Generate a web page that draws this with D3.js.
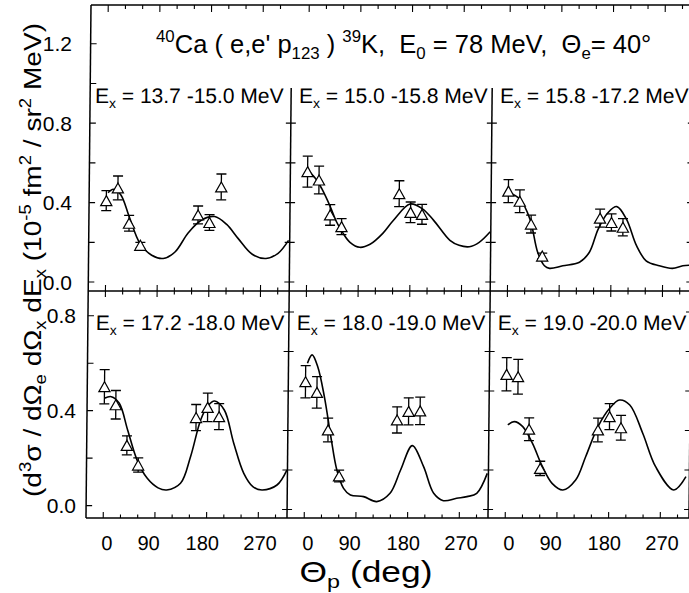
<!DOCTYPE html>
<html>
<head>
<meta charset="utf-8">
<script src="https://cdn.jsdelivr.net/npm/d3@7"></script>
<style>
  body { margin: 0; background: #fff; }
  svg { display: block; }
  text { font-family: "Liberation Sans", Arial, Helvetica, sans-serif; fill: #000; white-space: pre; }
</style>
</head>
<body>
<svg id="chart" width="689" height="593"></svg>
<script>
// ---- data ---------------------------------------------------------------
// proton emission angles of the measured points (deg)
const angles = [0, 20, 40, 60, 160, 180, 200];

// excitation-energy bins, one per panel
const bins = ["13.7 -15.0", "15.0 -15.8", "15.8 -17.2", "17.2 -18.0", "18.0 -19.0", "19.0 -20.0"];

// measured cross sections (10^-5 fm^2 / sr^2 MeV) and their errors
const meas1 = [0.410, 0.474, 0.296, 0.185, 0.338, 0.300, 0.479];
const err1  = [0.050, 0.060, 0.040, 0.015, 0.045, 0.040, 0.065];
const meas2 = [0.556, 0.514, 0.338, 0.279, 0.445, 0.351, 0.341];
const err2  = [0.078, 0.070, 0.052, 0.040, 0.065, 0.052, 0.050];
const meas3 = [0.458, 0.407, 0.292, 0.131, 0.322, 0.300, 0.276];
const err3  = [0.058, 0.057, 0.045, 0.015, 0.045, 0.043, 0.043];
const meas4 = [0.501, 0.425, 0.254, 0.171, 0.371, 0.414, 0.375];
const err4  = [0.072, 0.060, 0.040, 0.030, 0.055, 0.060, 0.055];
const meas5 = [0.522, 0.477, 0.319, 0.125, 0.361, 0.397, 0.399];
const err5  = [0.068, 0.066, 0.050, 0.025, 0.055, 0.057, 0.058];
const meas6 = [0.553, 0.543, 0.322, 0.157, 0.319, 0.375, 0.328];
const err6  = [0.070, 0.073, 0.048, 0.030, 0.050, 0.055, 0.052];

// calculated angular distributions: [angle, cross section]
const calc1 = [[3,0.450],[12,0.467],[25,0.440],[40,0.330],[59,0.196],[80,0.135],[100,0.119],[120,0.150],
               [143,0.247],[165,0.310],[189,0.330],[210,0.290],[230,0.220],[255,0.140],[279,0.119],[300,0.145],[318,0.210]];
const calc2 = [[5,0.550],[16,0.514],[25,0.470],[40,0.380],[50,0.310],[63,0.245],[75,0.200],[92,0.175],[110,0.190],
               [132,0.245],[150,0.310],[179,0.393],[200,0.370],[220,0.312],[249,0.210],[265,0.185],[283,0.178],[300,0.200],[319,0.253]];
const calc3 = [[0,0.452],[20,0.418],[38,0.317],[52,0.150],[64,0.082],[73,0.069],[96,0.082],[125,0.100],[142,0.150],
               [157,0.267],[174,0.350],[189,0.380],[206,0.317],[224,0.183],[241,0.107],[264,0.082],[287,0.069],[305,0.082],[320,0.085]];
const calc4 = [[0,0.452],[12,0.459],[26,0.431],[41,0.319],[58,0.192],[76,0.115],[95,0.075],[110,0.066],[134,0.094],
               [151,0.206],[168,0.361],[180,0.420],[192,0.441],[209,0.403],[226,0.263],[244,0.136],[260,0.080],[276,0.066],[302,0.087],[319,0.150]];
const calc5 = [[3,0.600],[11,0.635],[21,0.585],[33,0.459],[45,0.290],[56,0.150],[68,0.073],[80,0.045],[103,0.038],
               [126,0.017],[149,0.052],[167,0.150],[187,0.253],[207,0.164],[225,0.052],[242,0.021],[265,0.031],[283,0.038],[300,0.052],[318,0.136]];
const calc6 = [[3,0.340],[14,0.354],[29,0.333],[46,0.263],[64,0.164],[81,0.094],[100,0.066],[122,0.108],[139,0.206],
               [160,0.333],[180,0.410],[197,0.445],[215,0.424],[238,0.305],[261,0.164],[293,0.066],[314,0.122]];

// axis ticks
const xTicks = [0, 30, 60, 90, 120, 150, 180, 210, 240, 270, 300];
const xLabels = [0, 90, 180, 270];
const yTicksTop = [0, 0.2, 0.4, 0.6, 0.8, 1.0, 1.2];
const yLabelsTop = [0, 0.4, 0.8, 1.2];
const yTicksBottom = [0, 0.2, 0.4, 0.6, 0.8];
const yLabelsBottom = [0, 0.4, 0.8];
const innerTicksTop = [0, 0.2, 0.4, 0.6, 0.8];
const innerTicksBottom = [0, 0.2, 0.4, 0.6, 0.8, 1.0];

const panels = [
  { bin: bins[0], meas: meas1, err: err1, calc: calc1 },
  { bin: bins[1], meas: meas2, err: err2, calc: calc2 },
  { bin: bins[2], meas: meas3, err: err3, calc: calc3 },
  { bin: bins[3], meas: meas4, err: err4, calc: calc4 },
  { bin: bins[4], meas: meas5, err: err5, calc: calc5 },
  { bin: bins[5], meas: meas6, err: err6, calc: calc6 }
];

// ---- layout ---------------------------------------------------------------
const svg = d3.select("#chart");
const frameLeft = 88.5, colW = 201, frameRight = frameLeft + 3 * colW;
const rows = [
  { top: 5,   bottom: 291, innerTop: 88 },
  { top: 291, bottom: 518, innerTop: 291 }
];
// hand-set offsets of the angle labels under each panel
const xLabelNudge = [4, -6, -4, 2];

const xScale = col => d3.scaleLinear().domain([-30, 320])
  .range([frameLeft + col * colW, frameLeft + (col + 1) * colW]);
const yTop = d3.scaleLinear().domain([-0.045, 1.395]).range([291, 5]);
const yBottom = d3.scaleLinear().domain([-0.052, 0.904]).range([518, 291]);
// the inner frames of the lower row carry their own tick spacing
const yBottomInner = d3.scaleLinear().domain([0, 1]).range([509.5, 312]);
const yScales = [yTop, yBottom];

// text with sub/superscripts: parts = [[text, "sup"|"sub"|undefined], ...]
function rich(textSel, parts, size) {
  let shift = 0;
  parts.forEach(([t, kind]) => {
    const target = kind === "sup" ? -0.42 * size : kind === "sub" ? 0.22 * size : 0;
    const ts = textSel.append("tspan").text(t).attr("dy", target - shift);
    if (kind) ts.attr("font-size", 0.66 * size);
    shift = target;
  });
  return textSel;
}

// the whole frame leans very slightly to the left going down
const plot = svg.append("g").attr("transform", "translate(0,261) skewX(-0.56) translate(0,-261)");
const ink = plot.append("g").attr("stroke", "#000").attr("fill", "none");

// outer frame pieces
ink.append("line").attr("x1", frameLeft).attr("x2", frameRight).attr("y1", 5).attr("y2", 5).attr("stroke-width", 1.5);
ink.append("line").attr("x1", frameLeft).attr("x2", frameLeft).attr("y1", 5).attr("y2", 518).attr("stroke-width", 1.5);
ink.append("line").attr("x1", frameLeft).attr("x2", frameRight).attr("y1", 291).attr("y2", 291).attr("stroke-width", 1.5);
ink.append("line").attr("x1", frameLeft).attr("x2", frameRight).attr("y1", 518).attr("y2", 518).attr("stroke-width", 1.5);
[1, 2, 3].forEach(c => {
  rows.forEach(r => {
    ink.append("line").attr("x1", frameLeft + c * colW).attr("x2", frameLeft + c * colW)
      .attr("y1", r.innerTop).attr("y2", r.bottom).attr("stroke-width", 1.5);
  });
});

// x ticks on the top edge, the row divider and the bottom edge
for (let c = 0; c < 3; c++) {
  const x = xScale(c);
  xTicks.forEach(a => {
    const major = a % 90 === 0;
    const xp = x(a);
    ink.append("line").attr("x1", xp).attr("x2", xp).attr("y1", 5).attr("y2", 5 + (major ? 7 : 4)).attr("stroke-width", 1.1);
    ink.append("line").attr("x1", xp).attr("x2", xp).attr("y1", 291 - (major ? 6 : 3.5)).attr("y2", 291 + (major ? 6 : 3.5)).attr("stroke-width", 1.1);
    ink.append("line").attr("x1", xp).attr("x2", xp).attr("y1", 518).attr("y2", 518 - (major ? 6 : 3.5)).attr("stroke-width", 1.1);
  });
  plot.append("g").selectAll("text").data(xLabels).join("text")
    .attr("x", (d, k) => x(d) + xLabelNudge[k]).attr("y", 550).attr("text-anchor", "middle")
    .attr("font-size", 20).text(d => d);
}

// y ticks: left axis
yTicksTop.forEach(v => ink.append("line").attr("x1", frameLeft).attr("x2", frameLeft + 6)
  .attr("y1", yTop(v)).attr("y2", yTop(v)).attr("stroke-width", 1.1));
yTicksBottom.forEach(v => ink.append("line").attr("x1", frameLeft).attr("x2", frameLeft + 6)
  .attr("y1", yBottom(v)).attr("y2", yBottom(v)).attr("stroke-width", 1.1));
svg.append("g").selectAll("text").data(yLabelsTop).join("text")
  .attr("x", 72).attr("y", d => yTop(d) + 7.5).attr("text-anchor", "end")
  .attr("font-size", 21).text(d3.format(".1f"));
svg.append("g").selectAll("text").data(yLabelsBottom).join("text")
  .attr("x", 76).attr("y", d => yBottom(d) + 7.5).attr("text-anchor", "end")
  .attr("font-size", 21).text(d3.format(".1f"));

// y ticks: inner frames and right edge
[1, 2, 3].forEach(c => {
  const xp = frameLeft + c * colW;
  innerTicksTop.forEach(v => ink.append("line").attr("x1", xp - 5).attr("x2", xp + 5)
    .attr("y1", yTop(v)).attr("y2", yTop(v)).attr("stroke-width", 1.1));
  innerTicksBottom.forEach(v => ink.append("line").attr("x1", xp - 5).attr("x2", xp + 5)
    .attr("y1", yBottomInner(v)).attr("y2", yBottomInner(v)).attr("stroke-width", 1.1));
});

// panels
const line = d3.line().curve(d3.curveCatmullRom.alpha(0.5));
const tri = "M0,-5 L5.6,5 L-5.6,5 Z";

panels.forEach((p, i) => {
  const col = i % 3, row = Math.floor(i / 3);
  const x = xScale(col), y = yScales[row];
  const g = plot.append("g");

  g.append("path")
    .attr("d", line(p.calc.map(([a, v]) => [x(a), y(v)])))
    .attr("fill", "none").attr("stroke", "#000").attr("stroke-width", 1.6);

  const pts = angles.map((a, k) => ({ a, v: p.meas[k], e: p.err[k] }));
  const bars = g.append("g").attr("stroke", "#000").attr("stroke-width", 1.3);
  pts.forEach(d => {
    const xp = x(d.a);
    bars.append("line").attr("x1", xp).attr("x2", xp).attr("y1", y(d.v - d.e)).attr("y2", y(d.v + d.e));
    bars.append("line").attr("x1", xp - 5).attr("x2", xp + 5).attr("y1", y(d.v + d.e)).attr("y2", y(d.v + d.e));
    bars.append("line").attr("x1", xp - 5).attr("x2", xp + 5).attr("y1", y(d.v - d.e)).attr("y2", y(d.v - d.e));
  });
  g.append("g").selectAll("path").data(pts).join("path")
    .attr("d", tri)
    .attr("transform", d => `translate(${x(d.a)},${y(d.v)})`)
    .attr("fill", "#fff").attr("stroke", "#000").attr("stroke-width", 1.2);

  const lab = plot.append("text")
    .attr("x", frameLeft + col * colW + (i === 0 ? 5 : 8))
    .attr("y", row === 0 ? 103 : 330)
    .attr("font-size", 21);
  rich(lab, [["E"], ["x", "sub"], [" = " + p.bin + " MeV"]], 21);
});

// title
rich(svg.append("text").attr("x", 156).attr("y", 53).attr("font-size", 25.5),
  [["40", "sup"], ["Ca ( e,e' p"], ["123", "sub"], [" ) "], ["39", "sup"], ["K,  E"], ["0", "sub"],
   [" = 78 MeV,  Θ"], ["e", "sub"], ["= 40°"]], 25.5);

// axis titles (set a little wide)
rich(svg.append("text").attr("transform", "translate(366,582) scale(1.22,1)")
  .attr("font-size", 29).attr("text-anchor", "middle"),
  [["Θ"], ["p", "sub"], [" (deg)"]], 29);

rich(svg.append("text").attr("transform", "translate(41,260) rotate(-90) scale(1.17,1)")
  .attr("font-size", 24).attr("text-anchor", "middle"),
  [["(d"], ["3", "sup"], ["σ / dΩ"], ["e", "sub"], [" dΩ"], ["x", "sub"], [" dE"], ["x", "sub"],
   [" (10"], ["-5", "sup"], [" fm"], ["2", "sup"], [" / sr"], ["2", "sup"], [" MeV)"]], 24);
</script>
</body>
</html>
